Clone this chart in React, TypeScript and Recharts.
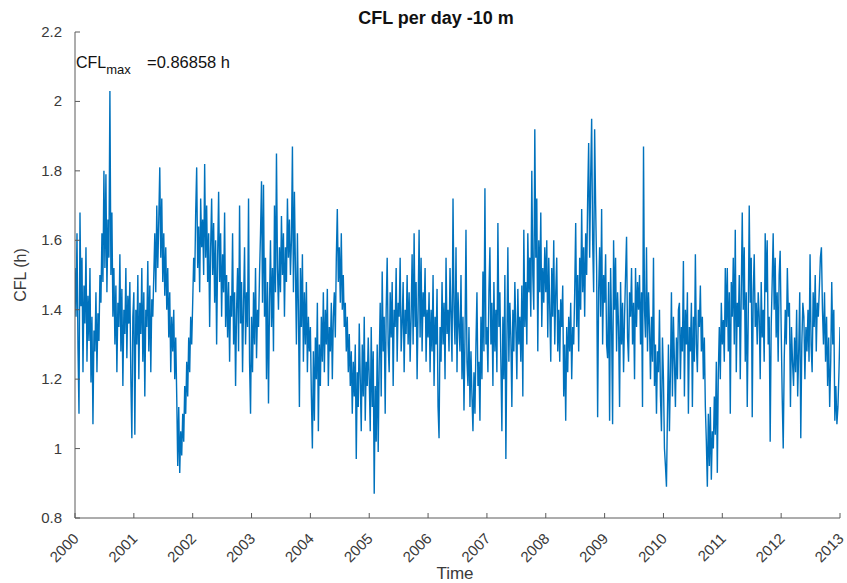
import React from "react";
import { LineChart, Line, XAxis, YAxis } from "recharts";

// Daily CFL values (about one value per pixel column), per year
const y2000 = [1.52,1.38,1.62,1.29,1.10,1.68,1.41,1.55,1.22,1.47,1.36,1.58,1.25,1.44,1.31,1.52,1.19,1.38,1.07,1.34,1.28,1.45,1.22,1.39,1.31,1.50,1.42,1.62,1.48,1.80,1.52,1.79,1.45,1.66,1.55,2.03,1.50,1.68,1.38,1.52,1.30,1.47,1.22,1.42,1.35,1.56,1.28,1.46,1.18,1.40,1.33,1.52,1.26,1.44,1.36,1.48,1.20,1.03,1.38];
const y2001 = [1.45,1.04,1.40,1.30,1.50,1.20,1.42,1.33,1.52,1.25,1.45,1.15,1.40,1.35,1.54,1.28,1.47,1.22,1.43,1.38,1.50,1.62,1.45,1.70,1.52,1.66,1.81,1.55,1.72,1.48,1.62,1.44,1.58,1.40,1.52,1.32,1.45,1.22,1.38,1.28,1.40,1.20,1.32,1.15,0.95,1.12,0.93,1.05,0.98,1.10,1.02,1.18,1.10,1.25,1.15,1.32,1.22,1.38,1.30];
const y2002 = [1.42,1.55,1.48,1.68,1.81,1.52,1.64,1.45,1.72,1.58,1.66,1.50,1.82,1.55,1.70,1.48,1.62,1.35,1.58,1.72,1.50,1.65,1.42,1.60,1.30,1.55,1.74,1.48,1.62,1.38,1.56,1.45,1.68,1.35,1.50,1.32,1.48,1.25,1.44,1.38,1.62,1.30,1.45,1.18,1.40,1.52,1.28,1.70,1.36,1.48,1.22,1.42,1.58,1.30,1.45,1.35,1.72,1.25,1.10];
const y2003 = [1.38,1.22,1.45,1.30,1.52,1.26,1.40,1.35,1.50,1.62,1.77,1.42,1.76,1.38,1.55,1.20,1.48,1.13,1.42,1.60,1.35,1.52,1.28,1.70,1.45,1.85,1.52,1.40,1.58,1.45,1.67,1.50,1.62,1.38,1.58,1.48,1.72,1.55,1.66,1.50,1.60,1.87,1.45,1.74,1.52,1.30,1.62,1.40,1.12,1.52,1.35,1.56,1.25,1.45,1.30,1.48,1.22,1.38,1.28];
const y2004 = [1.35,1.15,1.00,1.28,1.08,1.32,1.20,1.42,1.05,1.30,1.18,1.38,1.25,1.45,1.22,1.40,1.30,1.46,1.18,1.35,1.28,1.42,1.20,1.38,1.45,1.32,1.55,1.69,1.48,1.58,1.42,1.62,1.40,1.50,1.35,1.42,1.28,1.38,1.22,1.33,1.18,1.28,1.10,1.25,1.15,1.30,0.97,1.22,1.12,1.36,1.20,1.05,1.30,1.15,1.38,1.08,1.25,1.18,1.32];
const y2005 = [1.20,1.05,1.35,1.12,1.28,0.87,1.18,1.02,1.30,0.99,1.25,1.42,1.15,1.51,1.28,1.38,1.10,1.40,1.55,1.30,1.22,1.45,1.32,1.48,1.18,1.40,1.35,1.52,1.25,1.42,1.38,1.55,1.28,1.36,1.48,1.22,1.40,1.33,1.50,1.30,1.45,1.25,1.38,1.56,1.30,1.62,1.35,1.48,1.20,1.40,1.63,1.32,1.55,1.28,1.45,1.38,1.52,1.25,1.40];
const y2006 = [1.32,1.45,1.22,1.40,1.28,1.50,1.18,1.38,1.30,1.46,1.12,1.03,1.35,1.25,1.48,1.30,1.42,1.20,1.55,1.33,1.40,1.28,1.52,1.38,1.25,1.72,1.40,1.30,1.58,1.22,1.45,1.35,1.28,1.50,1.20,1.38,1.11,1.32,1.63,1.25,1.18,1.35,1.12,1.28,1.15,1.05,1.22,1.10,1.30,1.45,1.18,1.25,1.08,1.38,1.20,1.51,1.28,1.75,1.30];
const y2007 = [1.35,1.22,1.45,1.58,1.30,1.42,1.18,1.48,1.28,1.40,1.22,1.65,1.35,1.45,1.25,1.05,1.38,1.20,1.50,0.97,1.30,1.58,1.25,1.42,1.32,1.12,1.40,1.28,1.48,1.35,1.20,1.46,1.30,1.38,1.25,1.47,1.15,1.63,1.35,1.48,1.30,1.62,1.45,1.55,1.38,1.80,1.50,1.40,1.92,1.55,1.72,1.28,1.60,1.45,1.68,1.35,1.52,1.42,1.58];
const y2008 = [1.45,1.60,1.32,1.55,1.40,1.25,1.52,1.38,1.60,1.30,1.45,1.55,1.28,1.40,1.25,1.43,1.35,1.47,1.15,1.30,1.08,1.35,1.22,1.38,1.28,1.42,1.20,1.35,1.30,1.45,1.65,1.35,1.50,1.28,1.55,1.40,1.69,1.45,1.58,1.38,1.62,1.50,1.72,1.88,1.55,1.78,1.95,1.60,1.45,1.92,1.70,1.52,1.09,1.45,1.58,1.38,1.69,1.30,1.50];
const y2009 = [1.42,1.56,1.30,1.26,1.48,1.08,1.52,1.35,1.07,1.60,1.40,1.55,1.28,1.45,1.35,1.12,1.48,1.30,1.42,1.22,1.38,1.50,1.61,1.32,1.25,1.45,1.38,1.52,1.30,1.42,1.20,1.52,1.35,1.48,1.40,1.50,1.30,1.45,1.12,1.87,1.40,1.32,1.58,1.28,1.45,1.35,1.20,1.38,1.25,1.55,1.18,1.30,1.10,1.28,1.22,1.40,1.15,1.05,1.32];
const y2010 = [1.20,1.00,0.95,0.89,1.10,1.30,1.05,1.22,1.45,1.15,1.38,1.25,1.12,1.32,1.20,1.40,1.42,1.20,1.35,1.28,1.54,1.15,1.40,1.30,1.45,1.10,1.35,1.28,1.42,1.12,1.38,1.25,1.56,1.30,1.22,1.40,1.35,1.47,1.28,1.38,1.20,1.32,1.12,1.02,0.89,1.10,0.95,1.12,0.91,1.05,1.00,1.15,1.04,1.25,0.93,1.22,1.35,1.20,1.42];
const y2011 = [1.30,1.37,1.25,1.52,1.35,1.52,1.28,1.45,1.10,1.48,1.38,1.55,1.30,1.63,1.22,1.42,1.35,1.50,1.20,1.45,1.68,1.40,1.58,1.25,1.45,1.12,1.38,1.70,1.42,1.55,1.09,1.45,1.56,1.35,1.42,1.30,1.45,1.38,1.20,1.48,1.32,1.40,1.25,1.62,1.45,1.60,1.30,1.38,1.02,1.35,1.48,1.62,1.40,1.55,1.32,1.45,1.25,1.50,1.57];
const y2012 = [1.35,1.15,1.00,1.26,1.40,1.30,1.52,1.38,1.42,1.12,1.35,1.25,1.18,1.32,1.22,1.40,1.15,1.28,1.45,1.03,1.30,1.42,1.38,1.20,1.35,1.28,1.40,1.25,1.56,1.30,1.22,1.45,1.35,1.50,1.28,1.42,1.38,1.46,1.55,1.58,1.40,1.30,1.45,1.25,1.38,1.18,1.32,1.12,1.25,1.48,1.30,1.40,1.08,1.18,1.07,1.12,1.22,1.35];

const years = [2000, 2001, 2002, 2003, 2004, 2005, 2006, 2007, 2008, 2009, 2010, 2011, 2012];
const yearValues = [y2000, y2001, y2002, y2003, y2004, y2005, y2006, y2007, y2008, y2009, y2010, y2011, y2012];

const xTicks = [2000, 2001, 2002, 2003, 2004, 2005, 2006, 2007, 2008, 2009, 2010, 2011, 2012, 2013];
const yTicks = [0.8, 1, 1.2, 1.4, 1.6, 1.8, 2, 2.2];

const title = "CFL per day -10 m";
const xLabel = "Time";
const yLabel = "CFL (h)";
const cflMaxText = "=0.86858 h";

const data: { t: number; v: number }[] = [];
years.forEach((yr, k) => {
  const arr = yearValues[k];
  const last = k === years.length - 1;
  const n = last ? arr.length - 1 : arr.length;
  arr.forEach((v, i) => data.push({ t: yr + i / n, v }));
});

const AXIS = "#5a5a5a";
const TEXT = "#3a3a3a";
const FONT = "'Liberation Sans', Arial, Helvetica, sans-serif";

const YTick = (p: any) => {
  const { x, y, payload } = p;
  return (
    <g>
      <line x1={x} x2={x + 5} y1={y} y2={y} stroke={AXIS} strokeWidth={1} />
      <text x={x - 13} y={y} dy={5} textAnchor="end" fontSize={15} fill={TEXT} fontFamily={FONT}>
        {String(payload.value)}
      </text>
    </g>
  );
};

const XTick = (p: any) => {
  const { x, y, payload } = p;
  const tx = x + 1;
  const ty = y + 18;
  return (
    <g>
      <line x1={x} x2={x} y1={y} y2={y - 5} stroke={AXIS} strokeWidth={1} />
      <text
        x={tx}
        y={ty}
        dy={5}
        textAnchor="end"
        fontSize={15}
        fill={TEXT}
        fontFamily={FONT}
        transform={`rotate(-45, ${tx}, ${ty})`}
      >
        {String(payload.value)}
      </text>
    </g>
  );
};

export default function App() {
  return (
    <div style={{ position: "absolute", left: 0, top: 0, width: 847, height: 583, background: "#fff" }}>
      <LineChart width={847} height={583} data={data} margin={{ top: 32, right: 7, bottom: 0, left: 0 }}>
        <XAxis
          dataKey="t"
          type="number"
          domain={[2000, 2013]}
          ticks={xTicks}
          height={65}
          tickSize={0}
          tickMargin={0}
          tickLine={false}
          axisLine={{ stroke: AXIS, strokeWidth: 1 }}
          tick={<XTick />}
          interval={0}
          allowDataOverflow
        />
        <YAxis
          type="number"
          domain={[0.8, 2.2]}
          ticks={yTicks}
          width={75}
          tickSize={0}
          tickMargin={0}
          tickLine={false}
          axisLine={{ stroke: AXIS, strokeWidth: 1 }}
          tick={<YTick />}
          interval={0}
          allowDataOverflow
        />
        <Line
          type="linear"
          dataKey="v"
          stroke="#0072BD"
          strokeWidth={1.4}
          dot={false}
          activeDot={false}
          isAnimationActive={false}
        />
      </LineChart>
      <svg
        width={847}
        height={583}
        style={{ position: "absolute", left: 0, top: 0, pointerEvents: "none" }}
      >
        <text x={436} y={24} textAnchor="middle" fontSize={18} fontWeight="bold" fill="#111" fontFamily={FONT}>
          {title}
        </text>
        <text x={76} y={68} fontSize={16} fill="#111" fontFamily={FONT}>
          CFL
          <tspan fontSize={13} dy={6}>max</tspan>
        </text>
        <text x={147} y={68} fontSize={16.5} fill="#111" fontFamily={FONT}>
          {cflMaxText}
        </text>
        <text x={455} y={579} textAnchor="middle" fontSize={17} fill={TEXT} fontFamily={FONT}>
          {xLabel}
        </text>
        <text
          x={26}
          y={275}
          textAnchor="middle"
          fontSize={16}
          fill={TEXT}
          fontFamily={FONT}
          transform="rotate(-90, 26, 275)"
        >
          {yLabel}
        </text>
      </svg>
    </div>
  );
}
